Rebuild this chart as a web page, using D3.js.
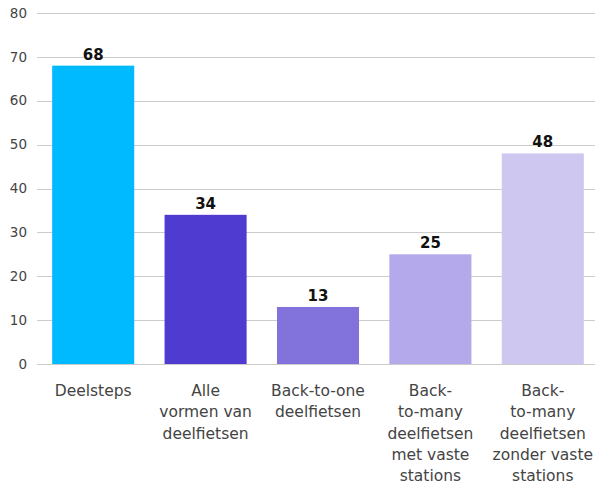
<!DOCTYPE html>
<html>
<head>
<meta charset="utf-8">
<script src="https://cdn.jsdelivr.net/npm/d3@7"></script>
<style>
  body { margin: 0; background: #fff; }
  text { font-family: "DejaVu Sans", sans-serif; }
</style>
</head>
<body>
<svg id="chart" width="595" height="483"></svg>
<script>
// data
const categories = [
    ["Deelsteps"],
    ["Alle", "vormen van", "deelfietsen"],
    ["Back-to-one", "deelfietsen"],
    ["Back-", "to-many", "deelfietsen", "met vaste", "stations"],
    ["Back-", "to-many", "deelfietsen", "zonder vaste", "stations"]
];
const values = [68, 34, 13, 25, 48];
const colors = ["#00baff", "#4f3bd0", "#8273dc", "#b3a9eb", "#cec7f0"];
const yTicks = [0, 10, 20, 30, 40, 50, 60, 70, 80];

let svg = d3.select("#chart");

let x = d3.scaleBand()
    .domain(d3.range(values.length))
    .range([37, 599])
    .paddingInner(0.27)
    .paddingOuter(0.135);

let y = d3.scaleLinear()
    .domain([0, 80])
    .range([364, 13]);

// grid lines
svg.append("g")
    .selectAll("line")
    .data(yTicks).enter().append("line")
    .attr("x1", 37)
    .attr("x2", 595)
    .attr("y1", d => Math.round(y(d)) + 0.5)
    .attr("y2", d => Math.round(y(d)) + 0.5)
    .attr("stroke", "#cccccc")
    .attr("stroke-width", 1);

// y labels
svg.append("g")
    .selectAll("text")
    .data(yTicks).enter().append("text")
    .attr("x", 27)
    .attr("y", d => y(d))
    .attr("dy", "0.35em")
    .attr("text-anchor", "end")
    .attr("font-size", 13.5)
    .attr("fill", "#444")
    .text(d => d);

// bars
svg.append("g")
    .selectAll("rect")
    .data(values).enter().append("rect")
    .attr("x", (d, i) => x(i))
    .attr("width", x.bandwidth())
    .attr("y", d => y(d))
    .attr("height", d => y(0) - y(d))
    .attr("fill", (d, i) => colors[i]);

// value labels
svg.append("g")
    .selectAll("text")
    .data(values).enter().append("text")
    .attr("x", (d, i) => x(i) + x.bandwidth() / 2)
    .attr("y", d => y(d) - 6)
    .attr("text-anchor", "middle")
    .attr("font-size", 15)
    .attr("font-weight", "bold")
    .attr("fill", "#111")
    .text(d => d);

// category labels
let cat = svg.append("g")
    .selectAll("text")
    .data(categories).enter().append("text")
    .attr("x", (d, i) => x(i) + x.bandwidth() / 2)
    .attr("y", 396)
    .attr("text-anchor", "middle")
    .attr("font-size", 15.5)
    .attr("fill", "#444");

cat.selectAll("tspan")
    .data(d => d).enter().append("tspan")
    .attr("x", function() { return this.parentNode.getAttribute("x"); })
    .attr("dy", (d, i) => i == 0 ? 0 : 21.3)
    .text(d => d);
</script>
</body>
</html>
